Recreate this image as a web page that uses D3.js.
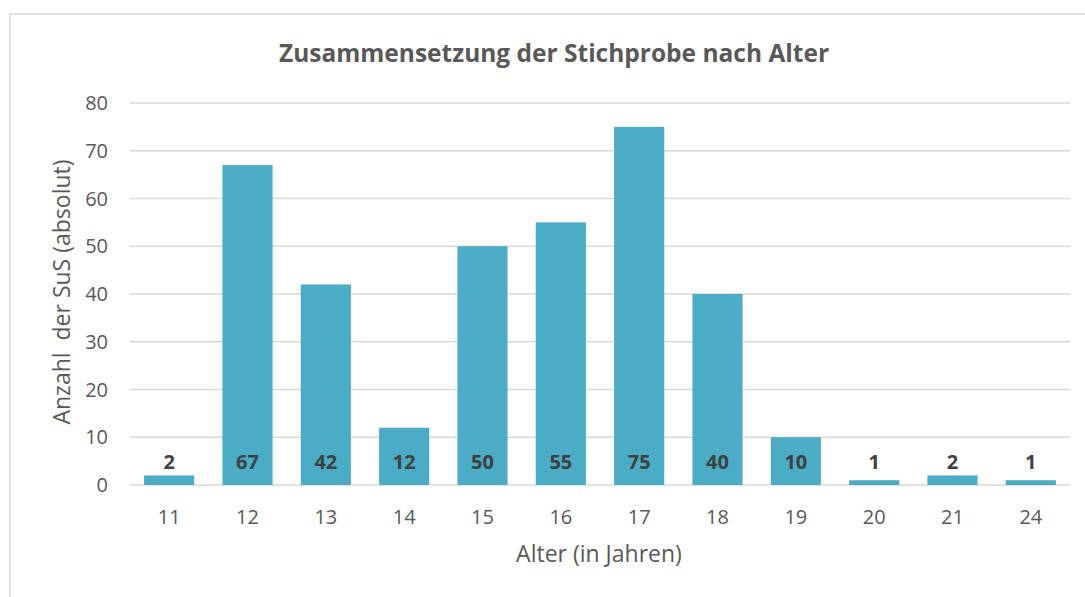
<!DOCTYPE html>
<html>
<head>
<meta charset="utf-8">
<script src="https://cdn.jsdelivr.net/npm/d3@7"></script>
<style>
  body { margin: 0; background: #fff; }
  svg text { font-family: "Open Sans", "Noto Sans", sans-serif; }
</style>
</head>
<body>
<div id="chart"></div>
<script>
// data
var ages = ["11", "12", "13", "14", "15", "16", "17", "18", "19", "20", "21", "24"];
var counts = [2, 67, 42, 12, 50, 55, 75, 40, 10, 1, 2, 1];
var yTicks = [0, 10, 20, 30, 40, 50, 60, 70, 80];

var width = 1085, height = 597;
var margin = {left: 130, right: 15, top: 103, bottom: 112};

var svg = d3.select("#chart").append("svg")
    .attr("width", width)
    .attr("height", height);

// chart frame
svg.append("rect")
    .attr("x", 10).attr("y", 14)
    .attr("width", width + 20).attr("height", height + 20)
    .attr("fill", "none")
    .attr("stroke", "#d9d9d9")
    .attr("stroke-width", 1.5);

var x = d3.scaleBand()
    .domain(ages)
    .range([margin.left, width - margin.right])
    .paddingInner(0.36)
    .paddingOuter(0.18);

var y = d3.scaleLinear()
    .domain([0, 80])
    .range([height - margin.bottom, margin.top]);

// gridlines
svg.append("g")
    .selectAll("line")
    .data(yTicks)
    .join("line")
    .attr("x1", margin.left)
    .attr("x2", width - margin.right)
    .attr("y1", d => y(d))
    .attr("y2", d => y(d))
    .attr("stroke", "#d9d9d9")
    .attr("stroke-width", 1.5);

// y tick labels
svg.append("g")
    .selectAll("text")
    .data(yTicks)
    .join("text")
    .attr("x", 108)
    .attr("y", d => y(d))
    .attr("dy", "0.36em")
    .attr("text-anchor", "end")
    .attr("font-size", 20)
    .attr("fill", "#595959")
    .text(d => d);

// bars
svg.append("g")
    .selectAll("rect")
    .data(counts)
    .join("rect")
    .attr("x", (d, i) => x(ages[i]))
    .attr("width", x.bandwidth())
    .attr("y", d => y(d))
    .attr("height", d => y(0) - y(d))
    .attr("fill", "#4bacc6");

// value labels
svg.append("g")
    .selectAll("text")
    .data(counts)
    .join("text")
    .attr("x", (d, i) => x(ages[i]) + x.bandwidth() / 2)
    .attr("y", y(0) - 16)
    .attr("text-anchor", "middle")
    .attr("font-size", 20)
    .attr("font-weight", "bold")
    .attr("fill", "#404040")
    .text(d => d);

// x tick labels
svg.append("g")
    .selectAll("text")
    .data(ages)
    .join("text")
    .attr("x", d => x(d) + x.bandwidth() / 2)
    .attr("y", 524)
    .attr("text-anchor", "middle")
    .attr("font-size", 20)
    .attr("fill", "#595959")
    .text(d => d);

// title
svg.append("text")
    .attr("x", 554)
    .attr("y", 62)
    .attr("text-anchor", "middle")
    .attr("font-size", 24.5)
    .attr("font-weight", "bold")
    .attr("fill", "#595959")
    .text("Zusammensetzung der Stichprobe nach Alter");

// axis titles
svg.append("text")
    .attr("x", 599)
    .attr("y", 562)
    .attr("text-anchor", "middle")
    .attr("font-size", 23)
    .attr("fill", "#595959")
    .text("Alter (in Jahren)");

svg.append("text")
    .attr("transform", "translate(70," + 292 + ") rotate(-90)")
    .attr("text-anchor", "middle")
    .attr("font-size", 23)
    .attr("fill", "#595959")
    .style("white-space", "pre")
    .text("Anzahl  der SuS (absolut)");
</script>
</body>
</html>
